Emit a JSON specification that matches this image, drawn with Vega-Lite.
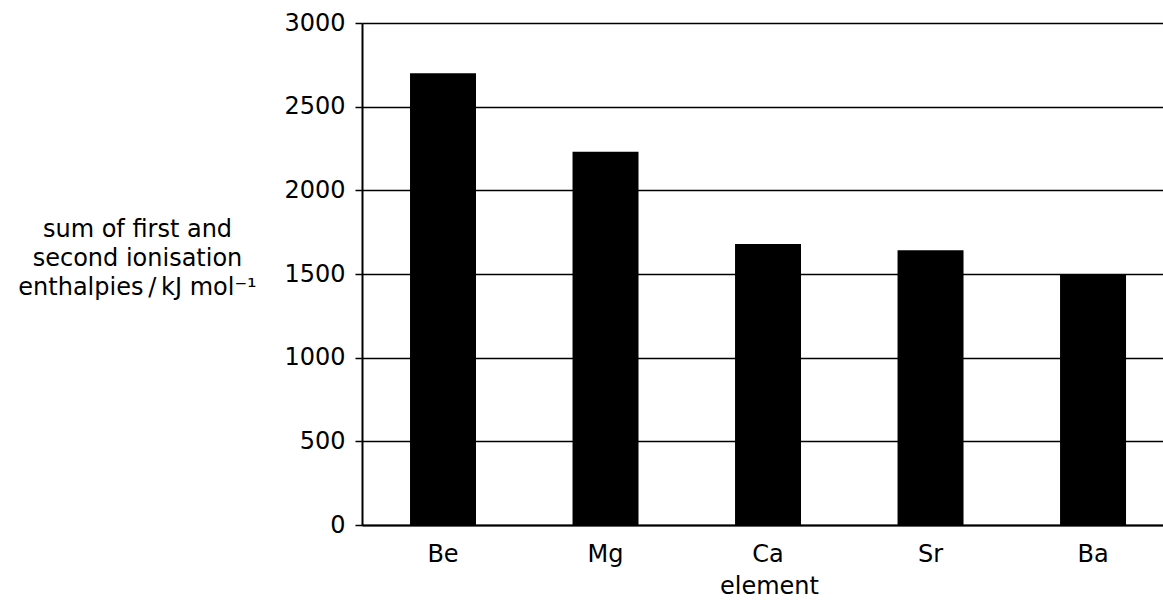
{
  "$schema": "https://vega.github.io/schema/vega-lite/v6.json",
  "width": 801,
  "height": 502,
  "autosize": {"type": "none"},
  "padding": {"left": 362, "top": 23, "right": 0, "bottom": 80},
  "background": "white",
  "config": {
    "view": {"stroke": null},
    "font": "DejaVu Sans"
  },
  "data": {
    "values": [
      {"element": "Be", "value": 2700},
      {"element": "Mg", "value": 2230},
      {"element": "Ca", "value": 1680},
      {"element": "Sr", "value": 1642},
      {"element": "Ba", "value": 1500}
    ]
  },
  "mark": {"type": "bar", "color": "black"},
  "encoding": {
    "x": {
      "field": "element",
      "type": "nominal",
      "sort": ["Be", "Mg", "Ca", "Sr", "Ba"],
      "scale": {"paddingInner": 0.594, "paddingOuter": 0.2615, "align": 0.565},
      "axis": {
        "title": "element",
        "titleFont": "DejaVu Sans",
        "titleFontSize": 24,
        "titleFontWeight": "normal",
        "titleColor": "black",
        "titleBaseline": "alphabetic",
        "titleY": 68,
        "titleX": 407,
        "labelAngle": 0,
        "labelFont": "DejaVu Sans",
        "labelFontSize": 24,
        "labelColor": "black",
        "labelPadding": 17,
        "ticks": false,
        "domainColor": "black",
        "domainWidth": 2
      }
    },
    "y": {
      "field": "value",
      "type": "quantitative",
      "scale": {"domain": [0, 3000], "nice": false},
      "axis": {
        "values": [0, 500, 1000, 1500, 2000, 2500, 3000],
        "format": "d",
        "title": ["sum of first and", "second ionisation", "enthalpies\u2009/\u2009kJ mol⁻¹"],
        "titleFont": "DejaVu Sans",
        "titleFontSize": 24,
        "titleFontWeight": "normal",
        "titleColor": "black",
        "titleAngle": 0,
        "titleAlign": "center",
        "titleBaseline": "alphabetic",
        "titleX": -225,
        "titleY": 213,
        "titleLineHeight": 29,
        "labelFont": "DejaVu Sans",
        "labelFontSize": 24,
        "labelColor": "black",
        "labelPadding": 10,
        "tickColor": "black",
        "tickSize": 7,
        "tickWidth": 1.5,
        "domainColor": "black",
        "domainWidth": 2,
        "grid": true,
        "gridColor": "black",
        "gridWidth": 1.5,
        "gridOpacity": 1
      }
    }
  }
}
